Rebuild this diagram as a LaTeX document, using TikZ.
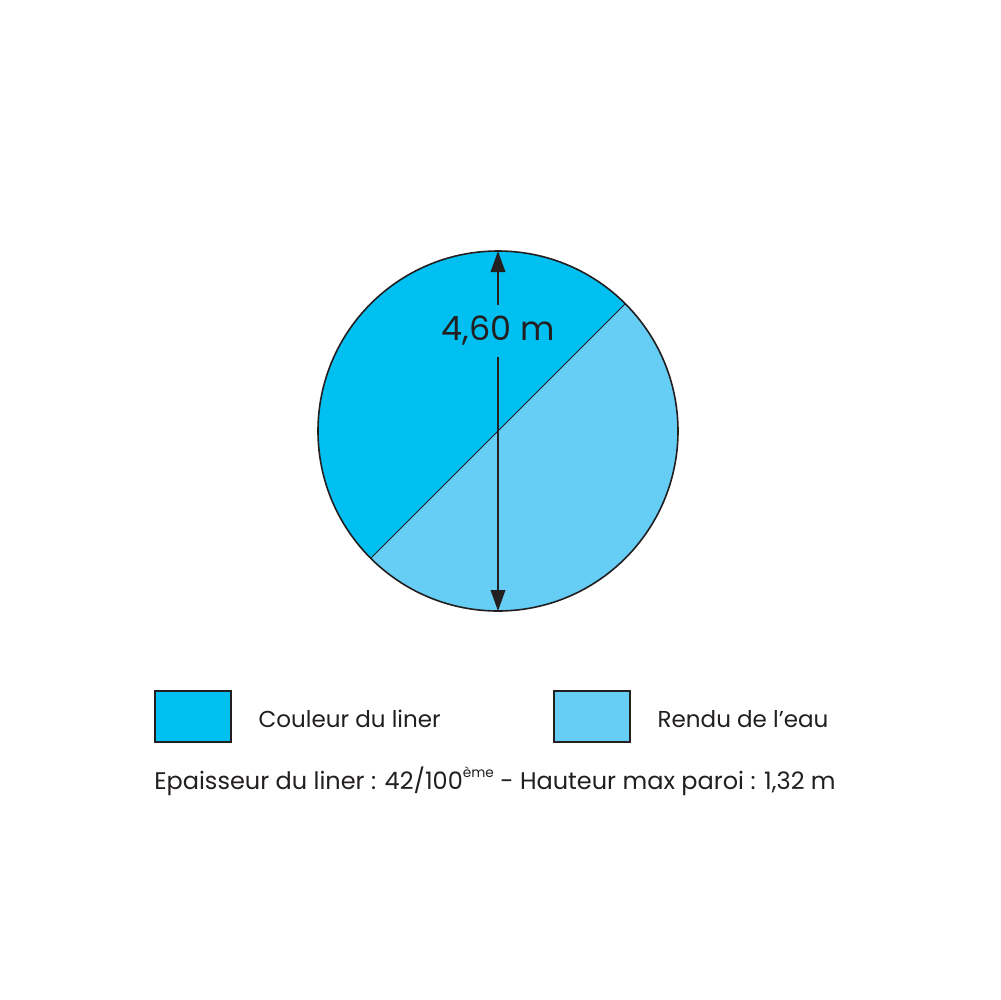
\documentclass[tikz,border=0pt]{standalone}
\usepackage{fontspec}
\setmainfont{Poppins}
\usetikzlibrary{arrows.meta}
\definecolor{liner}{HTML}{00C0F2}
\definecolor{eau}{HTML}{66CDF5}
\definecolor{ink}{HTML}{231F20}
\tikzset{
  outline/.style={draw=ink, line width=0.16mm},
  legendbox/.style={outline, minimum width=7.6mm, minimum height=5.1mm, inner sep=0pt},
  label/.style={text=ink, inner sep=0pt},
  dimarrow/.style={ink, line width=0.2mm, -{Triangle[length=2.1mm, width=1.45mm]}},
}
\begin{document}
\begin{tikzpicture}[x=0.1mm, y=-0.1mm]
\useasboundingbox[fill=white] (0,0) rectangle (1000,1000);
\coordinate (c) at (498,431);
\fill[liner] (c) circle[radius=180];
\fill[eau] (c) ++(-45:180) arc[start angle=-45, end angle=135, radius=180] -- cycle;
\draw[ink, line width=0.08mm] (c) ++(-45:180) coordinate (d1) -- (c) -- ++(135:180) coordinate (d2);
\draw[outline] (c) circle[radius=180];
\coordinate (top) at (498,251);
\coordinate (bot) at (498,611);
\node[label, inner sep=3pt, font=\fontsize{9.5pt}{11pt}\selectfont] (dim) at (498,331) {4,60 m};
\draw[dimarrow] (dim.north) -- (top);
\draw[dimarrow] (dim.south) -- (bot);
\node[legendbox, fill=liner] (b1) at (193,716.5) {};
\node[legendbox, fill=eau] (b2) at (592,716.5) {};
\node[label, anchor=west, font=\fontsize{6.55pt}{8pt}\selectfont] (t1) at (258,719) {Couleur du liner};
\node[label, anchor=west, font=\fontsize{6.55pt}{8pt}\selectfont] (t2) at (657,719) {Rendu de l’eau};
\node[label, font=\fontsize{6.83pt}{8pt}\selectfont] (t3) at (495,781) {Epaisseur du liner : 42/100\raisebox{0.9ex}{\fontsize{3.9pt}{4pt}\selectfont ème} - Hauteur max paroi : 1,32 m};
\end{tikzpicture}
\end{document}
